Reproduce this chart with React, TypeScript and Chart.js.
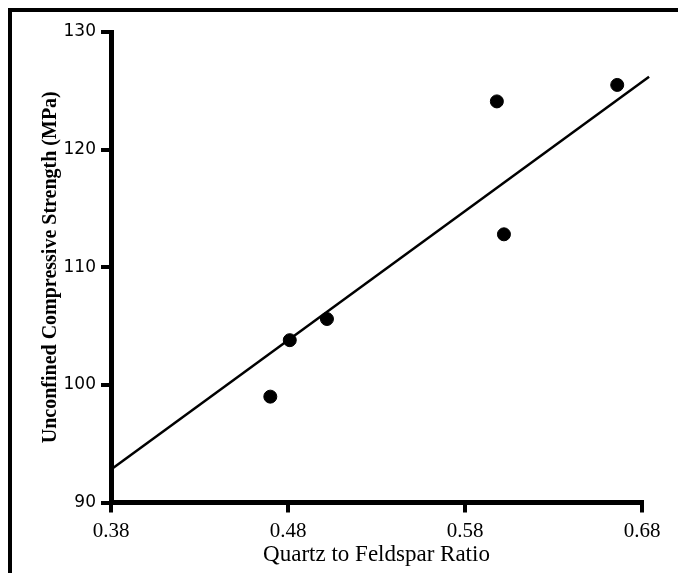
import React, { useEffect, useRef } from "react";
import { Chart, registerables } from "chart.js";

Chart.register(...registerables);

const quartzFeldsparRatio = [0.47, 0.481, 0.502, 0.598, 0.602, 0.666];
const strengthMPa = [99.0, 103.8, 105.6, 124.1, 112.8, 125.5];
const fitLineX = [0.38, 0.684];
const fitLineY = [92.8, 126.2];
const xTickValues = [0.38, 0.48, 0.58, 0.68];
const yTickValues = [90, 100, 110, 120, 130];

const X_TITLE = "Quartz to Feldspar Ratio";
const Y_TITLE = "Unconfined Compressive Strength (MPa)";

export default function App() {
  const canvasRef = useRef<HTMLCanvasElement | null>(null);

  useEffect(() => {
    if (!canvasRef.current) return;
    const points = quartzFeldsparRatio.map((x, i) => ({ x, y: strengthMPa[i] }));
    const line = fitLineX.map((x, i) => ({ x, y: fitLineY[i] }));
    const chart = new Chart(canvasRef.current, {
      type: "scatter",
      data: {
        datasets: [
          {
            type: "line",
            data: line,
            borderColor: "#000",
            borderWidth: 2.5,
            pointRadius: 0,
            fill: false,
            clip: false as any,
            order: 2,
          },
          {
            type: "scatter",
            data: points,
            backgroundColor: "#000",
            borderColor: "#000",
            pointRadius: 6.5,
            pointHoverRadius: 6.5,
            order: 1,
          },
        ],
      },
      options: {
        animation: false,
        responsive: false,
        events: [],
        layout: { padding: { top: 20, right: 36, bottom: 0, left: 0 } },
        plugins: {
          legend: { display: false },
          tooltip: { enabled: false },
        },
        scales: {
          x: {
            type: "linear",
            min: 0.38,
            max: 0.68,
            afterBuildTicks: (scale: any) => {
              scale.ticks = xTickValues.map((v) => ({ value: v }));
            },
            afterFit: (scale: any) => {
              scale.height = 70.5;
            },
            ticks: {
              color: "#000",
              padding: 6,
              font: { family: "'Liberation Serif', 'Times New Roman', serif", size: 21 },
              callback: (v: any) => Number(v).toFixed(2),
              maxRotation: 0,
              autoSkip: false,
            },
            grid: {
              display: true,
              drawOnChartArea: false,
              drawTicks: true,
              tickLength: 10,
              lineWidth: 4,
              color: "#000",
            },
            border: { display: true, width: 5, color: "#000" },
            title: {
              display: true,
              text: X_TITLE,
              color: "#000",
              padding: { top: 0, bottom: 4 },
              font: { family: "'Liberation Serif', 'Times New Roman', serif", size: 23 },
            },
          },
          y: {
            type: "linear",
            min: 90,
            max: 130,
            afterBuildTicks: (scale: any) => {
              scale.ticks = yTickValues.map((v) => ({ value: v }));
            },
            afterFit: (scale: any) => {
              scale.width = 99;
            },
            ticks: {
              color: "#000",
              padding: 5,
              font: { family: "'DejaVu Sans', Verdana, sans-serif", size: 17 },
              autoSkip: false,
            },
            grid: {
              display: true,
              drawOnChartArea: false,
              drawTicks: true,
              tickLength: 10,
              lineWidth: 4,
              color: "#000",
            },
            border: { display: true, width: 5, color: "#000" },
            title: {
              display: true,
              text: Y_TITLE,
              color: "#000",
              padding: { top: 27, bottom: 0 },
              font: { family: "'Liberation Serif', 'Times New Roman', serif", size: 20, weight: "bold" },
            },
          },
        },
      },
    } as any);
    return () => chart.destroy();
  }, []);

  return (
    <div
      style={{
        position: "fixed",
        left: 8,
        top: 8,
        width: 670,
        height: 565,
        boxSizing: "border-box",
        borderTop: "4px solid #000",
        borderLeft: "4px solid #000",
        background: "#fff",
        overflow: "hidden",
      }}
    >
      <canvas ref={canvasRef} width={666} height={561} style={{ display: "block" }} />
    </div>
  );
}
